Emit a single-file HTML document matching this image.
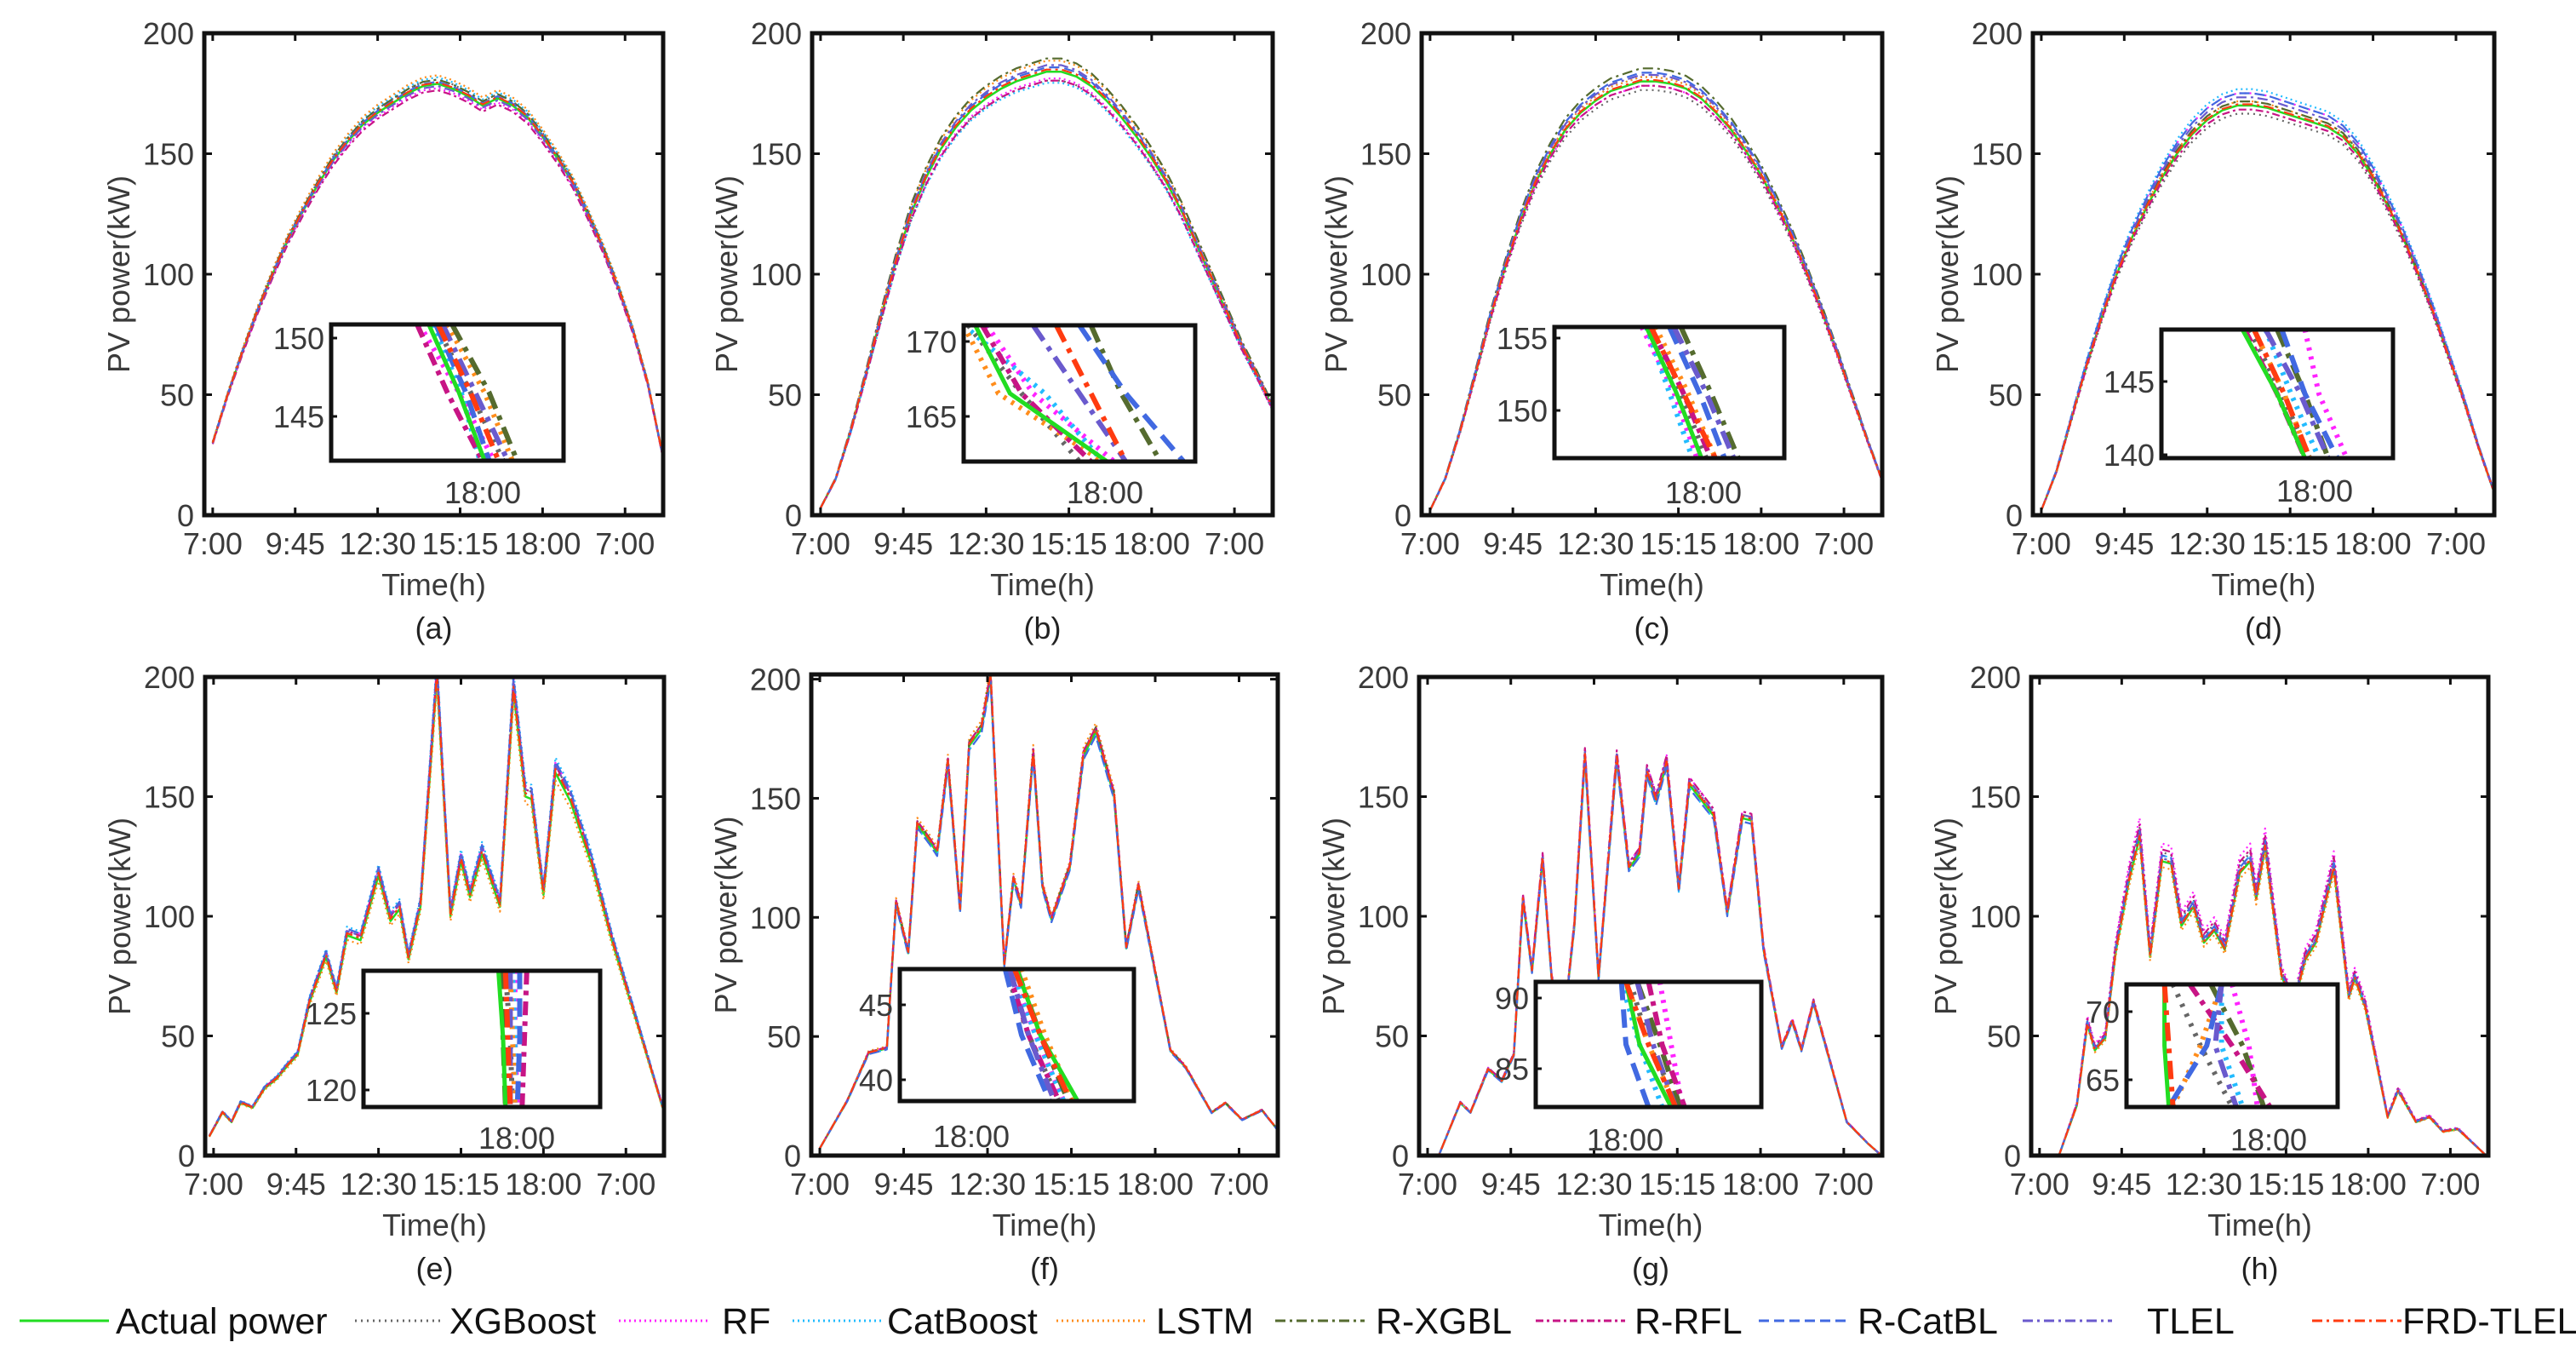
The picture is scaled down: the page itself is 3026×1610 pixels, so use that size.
<!DOCTYPE html>
<html><head><meta charset="utf-8"><style>
html,body{margin:0;padding:0;background:#fff;}
svg{display:block;font-family:"Liberation Sans",Arial,sans-serif;}
</style></head><body>
<svg id="fig" width="3026" height="1610" viewBox="0 0 3026 1610" xmlns="http://www.w3.org/2000/svg">
<rect x="0" y="0" width="3026" height="1610" fill="#fff"/>
</svg>
<script>
const seriesNames=["Actual power","XGBoost","RF","CatBoost","LSTM","R-XGBL","R-RFL","R-CatBL","TLEL","FRD-TLEL"];
const seriesColors=["#22dd22","#666666","#ff22ff","#22bbff","#ff8c1a","#556b2f","#c71585","#4169e1","#6a5acd","#ff3b10"];
const seriesDash=["","2,5","2,4","2,4","2,4","12,5,3,5","9,4,3,4","12,6","12,5,3,5","12,5,3,5"];
const xTickLabels=["7:00","9:45","12:30","15:15","18:00","7:00"];
const xTickHours=[0,2.75,5.5,8.25,11,13.75];
const yTicks=[0,50,100,150,200];
const panelLabels=["(a)","(b)","(c)","(d)","(e)","(f)","(g)","(h)"];

const halfHourTimes=[0,0.5,1,1.5,2,2.5,3,3.5,4,4.5,5,5.5,6,6.5,7,7.5,8,8.5,9,9.5,10,10.5,11,11.5,12,12.5,13,13.5,14,14.5,15];
const aActual=[30,50,68,85,100,114,126,137,147,155,162,167,171,175,178,179,177,174,170,173,170,165,157,148,138,125,111,95,77,55,25];
const bActual=[3,15,35,58,82,105,125,140,152,161,168,173,177,180,182,184,184,182,178,172,165,157,148,138,126,112,98,84,70,58,45];
const cActual=[2,15,35,58,82,103,122,138,150,160,167,172,176,178,180,180,179,177,173,167,160,151,141,129,116,101,85,68,50,32,15];
const dActual=[2,18,40,62,82,100,115,128,140,150,158,164,168,170,170,169,167,165,163,161,157,150,140,128,115,100,84,66,48,28,10];
const eTimes=[-0.14,0.3,0.6,0.9,1.3,1.7,2.1,2.5,2.8,3.2,3.75,4.1,4.45,4.9,5.5,5.9,6.2,6.5,6.9,7.45,7.9,8.25,8.55,8.95,9.55,10.0,10.4,10.6,11.0,11.4,11.9,12.6,13.3,14.3,15.0];
const eActual=[8,18,14,22,20,28,32,38,42,64,83,68,92,90,117,98,103,82,104,200,100,123,108,126,104,194,150,149,109,160,148,122,89,48,19];
const fTimes=[0,0.9,1.6,2.2,2.5,2.9,3.2,3.6,3.85,4.2,4.6,4.9,5.3,5.6,6.05,6.35,6.6,7.0,7.3,7.6,8.2,8.65,9.05,9.65,10.05,10.45,11.5,12.0,12.85,13.3,13.85,14.5,15.0];
const fActual=[3,23,43,45,106,85,139,132,127,165,103,172,179,201,80,116,105,169,113,99,121,168,178,151,87,113,44,37,18,22,15,19,11];
const gTimes=[-0.1,0.37,1.08,1.42,2.0,2.45,2.85,3.15,3.45,3.8,4.1,4.5,4.85,5.2,5.65,6.25,6.65,7.0,7.25,7.55,7.9,8.3,8.65,9.45,9.9,10.4,10.7,11.1,11.7,12.05,12.35,12.75,13.85,14.55,15.0];
const gActual=[0,0,22,18,36,31,42,107,77,124,74,55,96,167,74,166,120,126,160,148,164,111,155,142,101,141,140,86,45,56,44,64,14,5,0];
const hTimes=[-0.17,0.65,1.25,1.6,1.85,2.2,2.55,3.0,3.35,3.7,4.1,4.4,4.75,5.15,5.5,5.85,6.2,6.7,7.05,7.25,7.55,8.1,8.5,8.9,9.25,9.85,10.35,10.55,10.9,11.65,12.0,12.6,13.05,13.5,14.0,14.95];
const hActual=[0,0,21,55,44,49,85,115,133,83,123,122,96,104,89,94,86,118,123,107,129,75,63,82,89,120,66,74,62,16,27,14,16,10,11,0];

/* per-model relative deviation (%) for XGBoost..FRD-TLEL */
const aBias=[1,-1,1.5,2,1,-1.5,0.5,-0.5,0.3];
const bBias=[-2,-1.5,-2.5,2.5,3,-2,1,1.5,0.5];
const cBias=[-2,-1,1,1,3,-1,2,1.5,0.3];
const dBias=[-2,3,4,1,1,-1,3,2,0.3];
const eBias=[2,3,4,-2,1,2,3,2,1];
const fBias=[1,1,-1,2,1,1,-1,0.5,0.5];
const gBias=[1,2,-1,1,1,2,-1,1,0.5];
const hBias=[3,6,2,-2,1,4,2,1,0.5];

/* inset x-fractions at inset top / middle / bottom per series */
const aInset=[[0.42,0.55,0.66],[0.45,0.6,0.74],[0.38,0.55,0.7],[0.44,0.56,0.64],[0.5,0.66,0.78],[0.52,0.68,0.8],[0.37,0.5,0.65],[0.45,0.58,0.68],[0.48,0.62,0.76],[0.46,0.6,0.72]];
const bInset=[[0.05,0.2,0.62],[0.02,0.25,0.5],[0.1,0.3,0.65],[0.0,0.35,0.6],[0.0,0.15,0.6],[0.55,0.68,0.85],[0.08,0.25,0.55],[0.5,0.7,0.95],[0.3,0.5,0.7],[0.4,0.55,0.7]];
const cInset=[[0.4,0.53,0.64],[0.42,0.55,0.66],[0.38,0.52,0.62],[0.4,0.5,0.6],[0.44,0.58,0.7],[0.55,0.68,0.8],[0.42,0.56,0.68],[0.5,0.63,0.74],[0.52,0.66,0.78],[0.42,0.56,0.7]];
const dInset=[[0.35,0.5,0.62],[0.38,0.52,0.64],[0.62,0.68,0.8],[0.45,0.56,0.68],[0.4,0.53,0.64],[0.5,0.62,0.72],[0.36,0.5,0.62],[0.52,0.62,0.76],[0.45,0.6,0.72],[0.4,0.53,0.64]];
const eInset=[[0.57,0.59,0.6],[0.6,0.62,0.63],[0.64,0.64,0.65],[0.63,0.64,0.64],[0.62,0.63,0.64],[0.58,0.59,0.6],[0.69,0.68,0.67],[0.66,0.66,0.65],[0.62,0.62,0.62],[0.6,0.61,0.62]];
const fInset=[[0.5,0.6,0.76],[0.45,0.55,0.68],[0.47,0.58,0.7],[0.48,0.58,0.7],[0.52,0.62,0.74],[0.5,0.6,0.72],[0.46,0.55,0.68],[0.45,0.52,0.64],[0.47,0.55,0.66],[0.49,0.6,0.73]];
const gInset=[[0.4,0.46,0.6],[0.42,0.5,0.64],[0.55,0.6,0.65],[0.38,0.46,0.56],[0.4,0.5,0.62],[0.45,0.55,0.64],[0.5,0.56,0.66],[0.38,0.4,0.5],[0.45,0.52,0.62],[0.4,0.5,0.62]];
const hInset=[[0.18,0.18,0.2],[0.22,0.35,0.5],[0.5,0.58,0.62],[0.45,0.45,0.55],[0.45,0.35,0.22],[0.4,0.55,0.65],[0.3,0.5,0.68],[0.45,0.38,0.2],[0.45,0.42,0.52],[0.18,0.2,0.22]];

const NS="http://www.w3.org/2000/svg";
const svg=document.getElementById("fig");
function mk(tag,attrs,parent){const e=document.createElementNS(NS,tag);for(const k in attrs)e.setAttribute(k,attrs[k]);(parent||svg).appendChild(e);return e;}

const panels=[
 {L:240,R:779,T:39,B:605,ymax:200,times:halfHourTimes,act:aActual,bias:aBias,inset:aInset,ib:[389,662,381,541],il:[[150,397],[145,489]],lab:[567,578]},
 {L:954,R:1495,T:39,B:605,ymax:200,times:halfHourTimes,act:bActual,bias:bBias,inset:bInset,ib:[1132,1404,382,542],il:[[170,401],[165,489]],lab:[1298,578]},
 {L:1670,R:2211,T:39,B:605,ymax:200,times:halfHourTimes,act:cActual,bias:cBias,inset:cInset,ib:[1826,2096,384,538],il:[[155,397],[150,482]],lab:[2001,578]},
 {L:2388,R:2930,T:39,B:605,ymax:200,times:halfHourTimes,act:dActual,bias:dBias,inset:dInset,ib:[2539,2811,387,538],il:[[145,448],[140,534]],lab:[2719,576]},
 {L:241,R:780,T:795,B:1357,ymax:200,times:eTimes,act:eActual,bias:eBias,inset:eInset,ib:[427,705,1140,1300],il:[[125,1190],[120,1280]],lab:[607,1336]},
 {L:953,R:1501,T:792,B:1357,ymax:202,times:fTimes,act:fActual,bias:fBias,inset:fInset,ib:[1057,1332,1138,1293],il:[[45,1180],[40,1268]],lab:[1141,1334]},
 {L:1667,R:2211,T:795,B:1357,ymax:200,times:gTimes,act:gActual,bias:gBias,inset:gInset,ib:[1804,2069,1153,1300],il:[[90,1172],[85,1255]],lab:[1909,1338]},
 {L:2386,R:2923,T:795,B:1357,ymax:200,times:hTimes,act:hActual,bias:hBias,inset:hInset,ib:[2498,2746,1156,1300],il:[[70,1188],[65,1268]],lab:[2665,1338]}
];
const X0=-0.28,X1=15.02;

panels.forEach((p,pi)=>{
  const g=mk("g",{});
  
  
  const xs=h=>p.L+(h-X0)/(X1-X0)*(p.R-p.L);
  const ys=v=>p.B-v/p.ymax*(p.B-p.T);
  const cid="clip"+pi;
  const cp=mk("clipPath",{id:cid},g);mk("rect",{x:p.L,y:p.T,width:p.R-p.L,height:p.B-p.T},cp);
  const lines=mk("g",{"clip-path":"url(#"+cid+")"},g);
  for(let s=0;s<10;s++){
    const pts=p.times.map((t,i)=>{let v=p.act[i];if(s>0)v=v*(1+p.bias[s-1]/100);return xs(t).toFixed(1)+","+ys(v).toFixed(1);}).join(" ");
    const pl=mk("polyline",{points:pts,fill:"none",stroke:seriesColors[s],"stroke-width":s==0?2.5:2.2,"stroke-dasharray":seriesDash[s],"stroke-linejoin":"round"},lines);
    
    
  }
  const box=mk("rect",{x:p.L,y:p.T,width:p.R-p.L,height:p.B-p.T,fill:"none",stroke:"#111","stroke-width":5},g);
  
  
  xTickHours.forEach((h,i)=>{
    const x=xs(h);
    mk("line",{x1:x,y1:p.B,x2:x,y2:p.B-9,stroke:"#111","stroke-width":3},g);
    mk("line",{x1:x,y1:p.T,x2:x,y2:p.T+9,stroke:"#111","stroke-width":3},g);
    const t=mk("text",{x:x,y:p.B+46,"font-size":36,"text-anchor":"middle",fill:"#3a3a3a"},g);t.textContent=xTickLabels[i];
    
    
  });
  yTicks.forEach(v=>{
    const y=ys(v);
    mk("line",{x1:p.L,y1:y,x2:p.L+9,y2:y,stroke:"#111","stroke-width":3},g);
    mk("line",{x1:p.R,y1:y,x2:p.R-9,y2:y,stroke:"#111","stroke-width":3},g);
    const t=mk("text",{x:p.L-12,y:y+13,"font-size":36,"text-anchor":"end",fill:"#3a3a3a"},g);t.textContent=v;
    
    
  });
  const xt=mk("text",{x:(p.L+p.R)/2,y:p.B+94,"font-size":36,"text-anchor":"middle",fill:"#3a3a3a"},g);xt.textContent="Time(h)";
  
  
  const yc=(p.T+p.B)/2, yx=p.L-100;
  const yt=mk("text",{x:yx,y:yc,"font-size":36,"text-anchor":"middle",fill:"#3a3a3a",transform:"rotate(-90 "+yx+" "+yc+")",dy:"12"},g);yt.textContent="PV power(kW)";
  
  
  const pl=mk("text",{x:(p.L+p.R)/2,y:p.B+145,"font-size":36,"text-anchor":"middle",fill:"#222"},g);pl.textContent=panelLabels[pi];
  
  
  const [iL,iR,iT,iB]=p.ib;
  const ig=mk("g",{},g);
  
  
  mk("rect",{x:iL,y:iT,width:iR-iL,height:iB-iT,fill:"#fff"},ig);
  const icid="iclip"+pi;
  const icp=mk("clipPath",{id:icid},ig);mk("rect",{x:iL,y:iT,width:iR-iL,height:iB-iT},icp);
  const il=mk("g",{"clip-path":"url(#"+icid+")"},ig);
  const order=[1,2,3,4,5,6,7,8,0,9];
  order.forEach(s=>{
    const f=p.inset[s];
    const ixs=fr=>iL+fr*(iR-iL);
    const pts=[[ixs(f[0]),iT],[ixs(f[1]),(iT+iB)/2],[ixs(f[2]),iB]].map(q=>q[0].toFixed(1)+","+q[1].toFixed(1)).join(" ");
    const dash=s==0?"":(seriesDash[s].split(",").map(d=>+d*1.8).join(","));
    const l=mk("polyline",{points:pts,fill:"none",stroke:seriesColors[s],"stroke-width":s==0?5:6,"stroke-dasharray":dash},il);
    
    
  });
  mk("rect",{x:iL,y:iT,width:iR-iL,height:iB-iT,fill:"none",stroke:"#111","stroke-width":5},ig);
  p.il.forEach(q=>{
    mk("line",{x1:iL,y1:q[1],x2:iL+7,y2:q[1],stroke:"#111","stroke-width":3},ig);
    const t=mk("text",{x:iL-8,y:q[1]+13,"font-size":36,"text-anchor":"end",fill:"#3a3a3a"},ig);t.textContent=q[0];
    
    
  });
  const lt=mk("text",{x:p.lab[0],y:p.lab[1]+13,"font-size":36,"text-anchor":"middle",fill:"#3a3a3a"},ig);lt.textContent="18:00";
  
  
});

const legLineX=[23,417,727,931,1241,1498,1804,2066,2376,2716];
const legTextX=[136,528,848,1042,1358,1616,1920,2182,2522,2822];
const lg=mk("g",{});


seriesNames.forEach((n,s)=>{
  const e=mk("g",{},lg);
  
  
  mk("line",{x1:legLineX[s],y1:1551,x2:legLineX[s]+105,y2:1551,stroke:seriesColors[s],"stroke-width":3,"stroke-dasharray":seriesDash[s]},e);
  const t=mk("text",{x:legTextX[s],y:1566,"font-size":43,fill:"#111"},e);t.textContent=n;
});
</script>
</body></html>
